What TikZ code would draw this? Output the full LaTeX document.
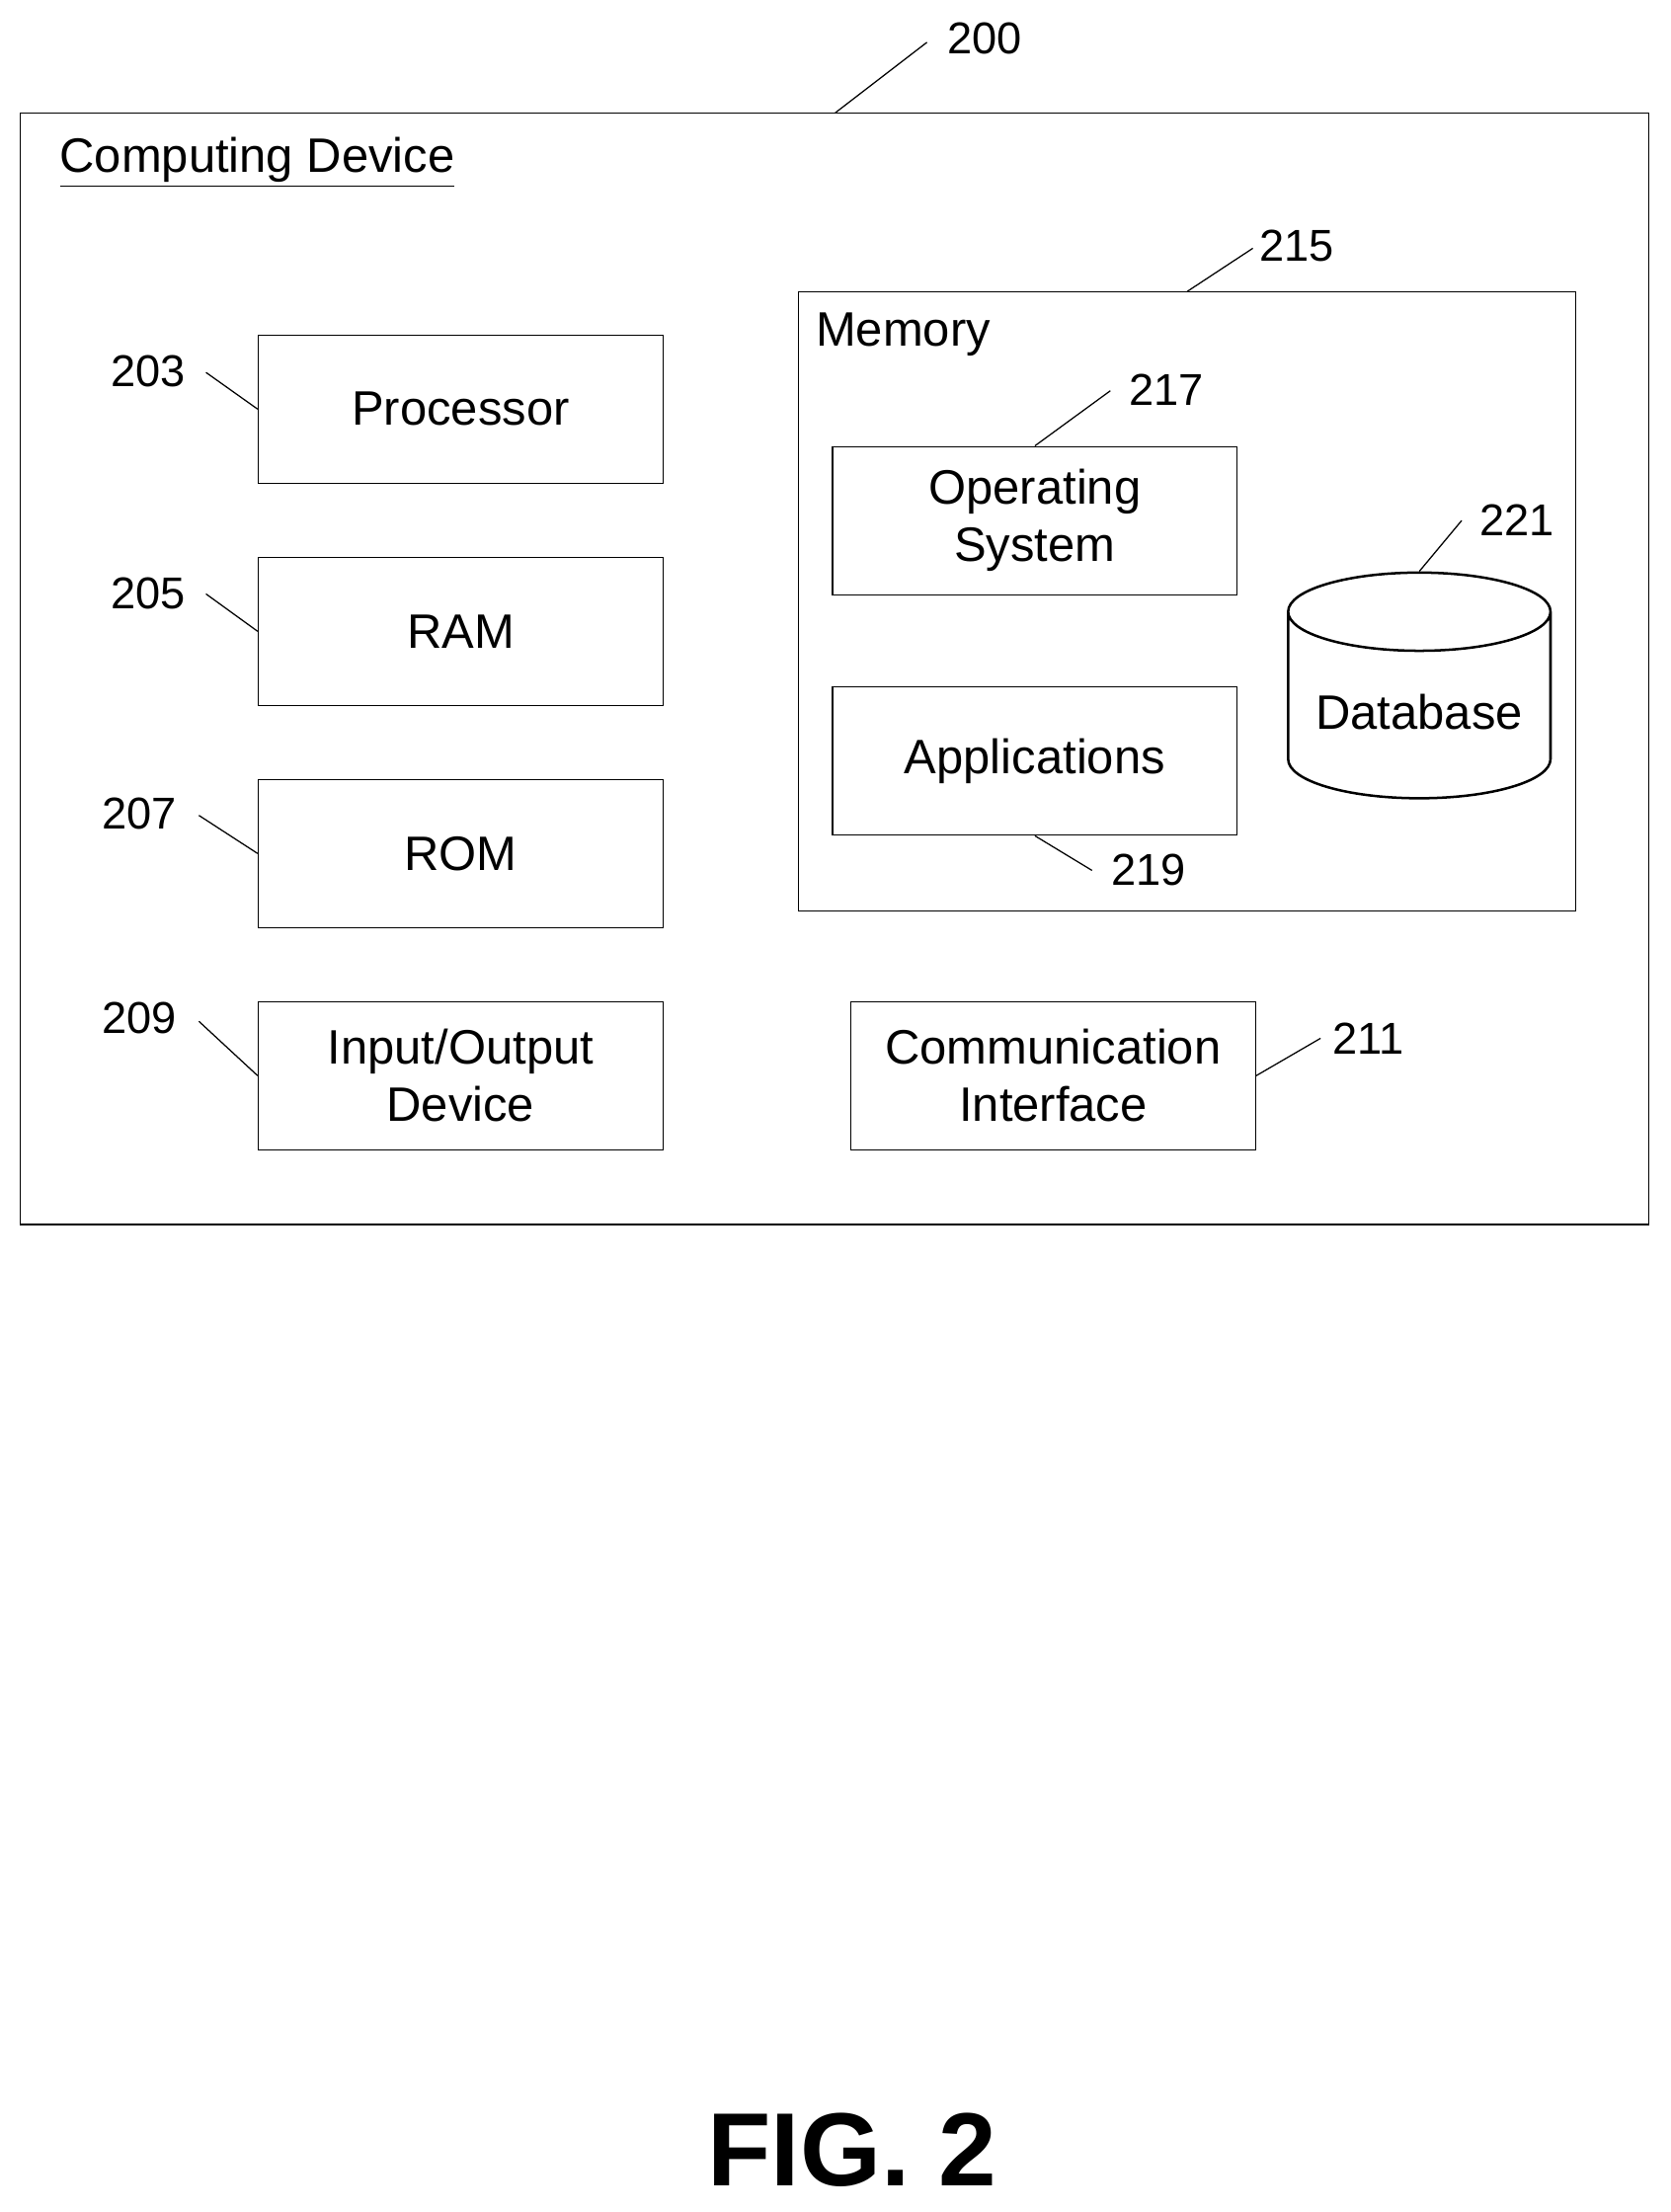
\documentclass[tikz,border=0pt]{standalone}
\usepackage{fontspec}
\setmainfont{Liberation Sans}
\usetikzlibrary{shapes.geometric}
\tikzset{
  blk/.style={draw, rectangle, minimum width=5.74cm, minimum height=2.1cm, align=center, line width=0.5pt, font=\fontsize{19.5}{23}\selectfont},
  lbl/.style={font=\fontsize{18}{20}\selectfont, inner sep=1pt},
  lead/.style={line width=0.5pt}
}
\begin{document}
\begin{tikzpicture}[x=0.02cm,y=-0.02cm]
\useasboundingbox (0,0) rectangle (1184,1568);

\node (dev) [draw, rectangle, line width=0.5pt, minimum width=23.1cm, minimum height=15.76cm] at (591.5,474) {};
\node (devname) [anchor=west, inner sep=0pt, font=\fontsize{19.5}{23}\selectfont] at (42,115) {\underline{Computing Device}};
\node (n200) [lbl] at (698,27) {200};
\draw[lead] (592,80) -- (657,30);

\node (proc) [blk] at (326.5,290) {Processor};
\node (ram) [blk] at (326.5,447.5) {RAM};
\node (rom) [blk] at (326.5,605) {ROM};
\node (io) [blk] at (326.5,762.5) {Input/Output\\Device};

\node (n203) [lbl] at (105,263) {203};
\node (n205) [lbl] at (105,421) {205};
\node (n207) [lbl] at (99,577) {207};
\node (n209) [lbl] at (99,722) {209};
\draw[lead] (146,264) -- (proc.west);
\draw[lead] (146,421) -- (ram.west);
\draw[lead] (141,578) -- (rom.west);
\draw[lead] (141,724) -- (io.west);

\node (mem) [draw, rectangle, line width=0.5pt, minimum width=11.02cm, minimum height=8.78cm] at (841.5,426.5) {};
\node (memname) [anchor=west, inner sep=0pt, font=\fontsize{19.5}{23}\selectfont] at (578,237) {Memory};
\node (n215) [lbl] at (919,174) {215};
\draw[lead] (mem.north) -- (888,176);

\node (os) [blk] at (733.5,369) {Operating\\System};
\node (apps) [blk] at (733.5,539.5) {Applications};
\node (n217) [lbl] at (827,276) {217};
\node (n219) [lbl] at (814,617) {219};
\draw[lead] (os.north) -- (787,277);
\draw[lead] (apps.south) -- (774,617);

\node (db) [draw, cylinder, shape border rotate=90, aspect=0.35, line width=1pt, minimum width=3.72cm, minimum height=3.2cm, font=\fontsize{19.5}{23}\selectfont] at (1006,505) {Database};
\node (n221) [lbl] at (1075,369) {221};
\draw[lead] (db.top) -- (1036,369);

\node (comm) [blk] at (746.5,762.5) {Communication\\Interface};
\node (n211) [lbl] at (970,736) {211};
\draw[lead] (comm.east) -- (936,736);

\node (fig) [font=\fontsize{42}{46}\selectfont\bfseries] at (604,1524) {FIG. 2};
\end{tikzpicture}
\end{document}
